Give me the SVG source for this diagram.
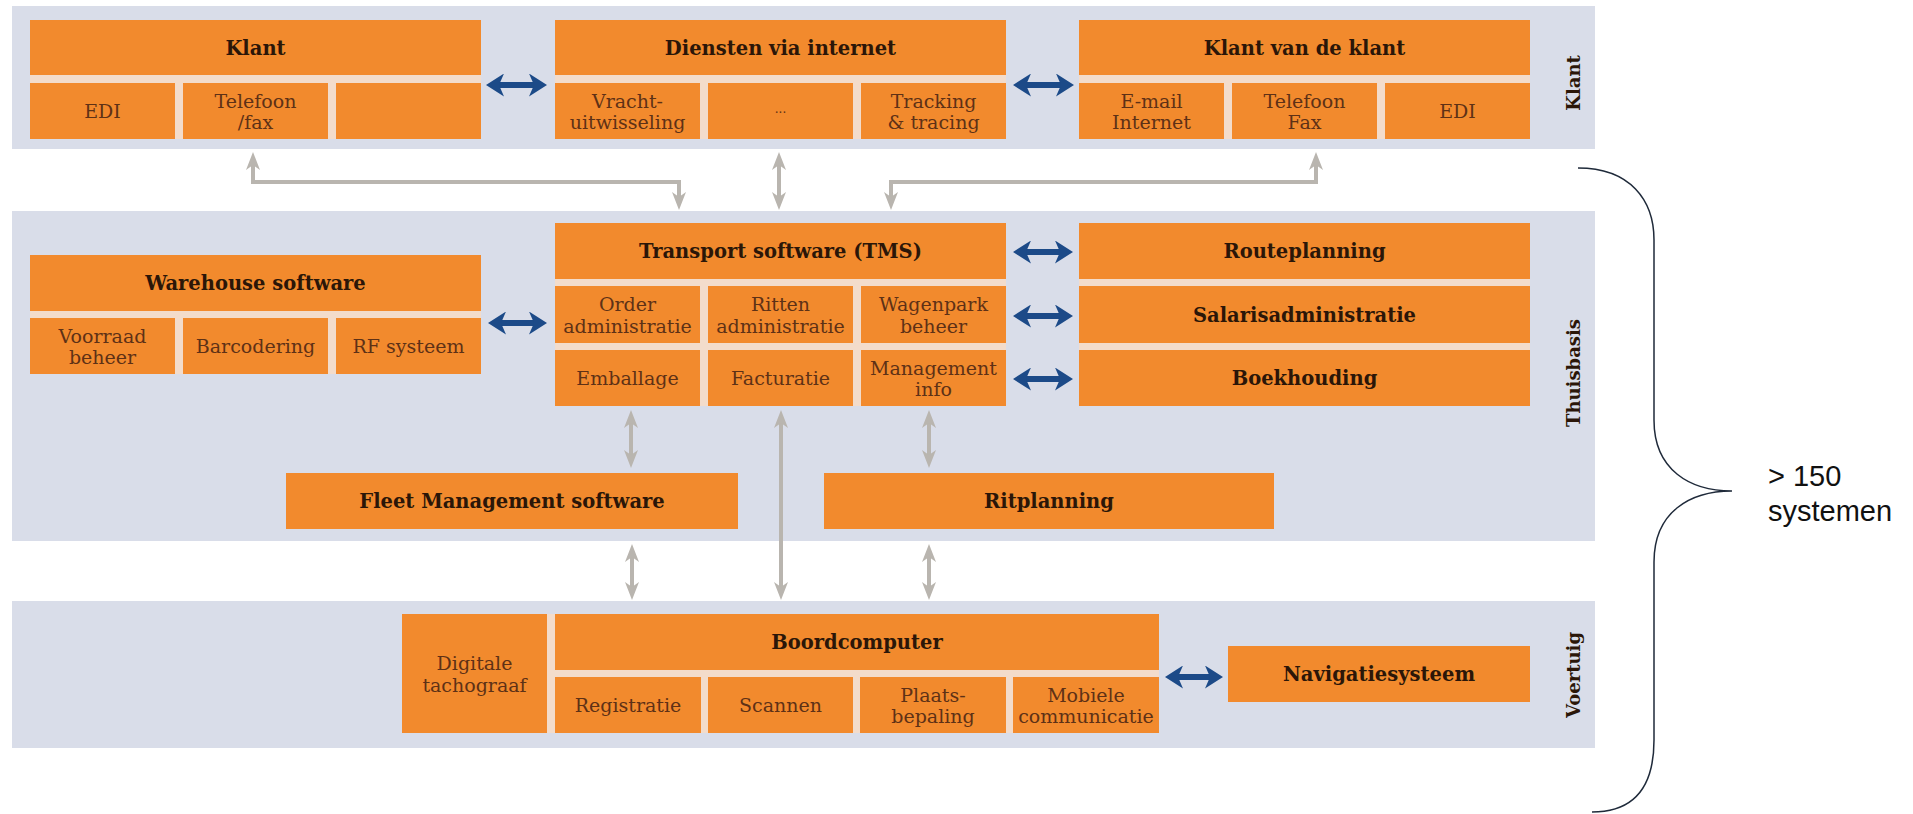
<svg xmlns="http://www.w3.org/2000/svg" width="1913" height="814" viewBox="0 0 1913 814">
<style>
.band{fill:#d9dde9}
.gap{fill:#f3dccb}
.box{fill:#f28a2d}
.h{font-family:"DejaVu Serif","Liberation Serif",serif;font-weight:bold;font-size:19.5px;fill:#2b1608;text-anchor:middle}
.t{font-family:"DejaVu Serif","Liberation Serif",serif;font-size:19px;fill:#5e3116;text-anchor:middle}
.lbl{font-family:"DejaVu Serif","Liberation Serif",serif;font-weight:bold;font-size:18px;fill:#2b1608;text-anchor:middle}
.g{stroke:#b9b5af;stroke-width:4;fill:none}
.b{stroke:#1c4a88;stroke-width:6;fill:none}
.note{font-family:"Liberation Sans",Arial,sans-serif;font-size:29px;fill:#111111}
</style>
<defs>
<marker id="ga" viewBox="0 0 18 14" refX="11" refY="7" markerWidth="18" markerHeight="14" markerUnits="userSpaceOnUse" orient="auto-start-reverse"><path d="M0,0 L18,7 L0,14 L5,7 z" fill="#b9b5af"/></marker>
<marker id="ba" viewBox="0 0 18 23" refX="9" refY="11.5" markerWidth="18" markerHeight="23" markerUnits="userSpaceOnUse" orient="auto-start-reverse"><path d="M0,0 L18,11.5 L0,23 L5,11.5 z" fill="#1c4a88"/></marker>
</defs>
<rect width="1913" height="814" fill="#ffffff"/>
<g id="bands">
<rect class="band" x="12" y="6" width="1583" height="143"/>
<rect class="band" x="12" y="211" width="1583" height="330"/>
<rect class="band" x="12" y="601" width="1583" height="147"/>
<text class="lbl" transform="translate(1580,83) rotate(-90)">Klant</text>
<text class="lbl" transform="translate(1580,373) rotate(-90)">Thuisbasis</text>
<text class="lbl" transform="translate(1580,675) rotate(-90)">Voertuig</text>
</g>
<g id="node-klant">
<rect class="gap" x="30" y="20" width="451" height="119"/>
<rect class="box" x="30" y="20" width="451" height="55"/>
<text class="h" x="255.5" y="55">Klant</text>
<rect class="box" x="30" y="83" width="145" height="56"/>
<text class="t" x="102.5" y="118">EDI</text>
<rect class="box" x="183" y="83" width="145" height="56"/>
<text class="t" x="255.5" y="107.5">Telefoon</text>
<text class="t" x="255.5" y="129">/fax</text>
<rect class="box" x="336" y="83" width="145" height="56"/>
</g>
<g id="node-diensten">
<rect class="gap" x="555" y="20" width="451" height="119"/>
<rect class="box" x="555" y="20" width="451" height="55"/>
<text class="h" x="780.5" y="55">Diensten via internet</text>
<rect class="box" x="555" y="83" width="145" height="56"/>
<text class="t" x="627.5" y="107.5">Vracht-</text>
<text class="t" x="627.5" y="129">uitwisseling</text>
<rect class="box" x="708" y="83" width="145" height="56"/>
<text class="t" x="780.5" y="113" style="font-size:12px">...</text>
<rect class="box" x="861" y="83" width="145" height="56"/>
<text class="t" x="933.5" y="107.5">Tracking</text>
<text class="t" x="933.5" y="129">&amp; tracing</text>
</g>
<g id="node-klantvandeklant">
<rect class="gap" x="1079" y="20" width="451" height="119"/>
<rect class="box" x="1079" y="20" width="451" height="55"/>
<text class="h" x="1304.5" y="55">Klant van de klant</text>
<rect class="box" x="1079" y="83" width="145" height="56"/>
<text class="t" x="1151.5" y="107.5">E-mail</text>
<text class="t" x="1151.5" y="129">Internet</text>
<rect class="box" x="1232" y="83" width="145" height="56"/>
<text class="t" x="1304.5" y="107.5">Telefoon</text>
<text class="t" x="1304.5" y="129">Fax</text>
<rect class="box" x="1385" y="83" width="145" height="56"/>
<text class="t" x="1457.5" y="118">EDI</text>
</g>
<g id="node-warehouse">
<rect class="gap" x="30" y="255" width="451" height="119"/>
<rect class="box" x="30" y="255" width="451" height="56"/>
<text class="h" x="255.5" y="290">Warehouse software</text>
<rect class="box" x="30" y="318" width="145" height="56"/>
<text class="t" x="102.5" y="342.5">Voorraad</text>
<text class="t" x="102.5" y="364">beheer</text>
<rect class="box" x="183" y="318" width="145" height="56"/>
<text class="t" x="255.5" y="353">Barcodering</text>
<rect class="box" x="336" y="318" width="145" height="56"/>
<text class="t" x="408.5" y="353">RF systeem</text>
</g>
<g id="node-tms">
<rect class="gap" x="555" y="223" width="451" height="183"/>
<rect class="box" x="555" y="223" width="451" height="56"/>
<text class="h" x="780.5" y="258">Transport software (TMS)</text>
<rect class="box" x="555" y="286" width="145" height="57"/>
<text class="t" x="627.5" y="311">Order</text>
<text class="t" x="627.5" y="332.5">administratie</text>
<rect class="box" x="708" y="286" width="145" height="57"/>
<text class="t" x="780.5" y="311">Ritten</text>
<text class="t" x="780.5" y="332.5">administratie</text>
<rect class="box" x="861" y="286" width="145" height="57"/>
<text class="t" x="933.5" y="311">Wagenpark</text>
<text class="t" x="933.5" y="332.5">beheer</text>
<rect class="box" x="555" y="350" width="145" height="56"/>
<text class="t" x="627.5" y="385">Emballage</text>
<rect class="box" x="708" y="350" width="145" height="56"/>
<text class="t" x="780.5" y="385">Facturatie</text>
<rect class="box" x="861" y="350" width="145" height="56"/>
<text class="t" x="933.5" y="374.5">Management</text>
<text class="t" x="933.5" y="396">info</text>
</g>
<g id="node-routeplanning">
<rect class="gap" x="1079" y="279" width="451" height="71"/>
<rect class="box" x="1079" y="223" width="451" height="56"/>
<text class="h" x="1304.5" y="258">Routeplanning</text>
</g>
<g id="node-salarisadministratie">
<rect class="box" x="1079" y="286" width="451" height="57"/>
<text class="h" x="1304.5" y="321.5">Salarisadministratie</text>
</g>
<g id="node-boekhouding">
<rect class="box" x="1079" y="350" width="451" height="56"/>
<text class="h" x="1304.5" y="385">Boekhouding</text>
</g>
<g id="node-fleet">
<rect class="box" x="286" y="473" width="452" height="56"/>
<text class="h" x="512" y="508">Fleet Management software</text>
</g>
<g id="node-ritplanning">
<rect class="box" x="824" y="473" width="450" height="56"/>
<text class="h" x="1049" y="508">Ritplanning</text>
</g>
<g id="node-tachograaf">
<rect class="gap" x="402" y="614" width="757" height="119"/>
<rect class="box" x="402" y="614" width="145" height="119"/>
<text class="t" x="474.5" y="670">Digitale</text>
<text class="t" x="474.5" y="691.5">tachograaf</text>
</g>
<g id="node-boordcomputer">
<rect class="box" x="555" y="614" width="604" height="56"/>
<text class="h" x="857" y="649">Boordcomputer</text>
<rect class="box" x="555" y="677" width="146" height="56"/>
<text class="t" x="628" y="712">Registratie</text>
<rect class="box" x="708" y="677" width="145" height="56"/>
<text class="t" x="780.5" y="712">Scannen</text>
<rect class="box" x="860" y="677" width="146" height="56"/>
<text class="t" x="933" y="701.5">Plaats-</text>
<text class="t" x="933" y="723">bepaling</text>
<rect class="box" x="1013" y="677" width="146" height="56"/>
<text class="t" x="1086" y="701.5">Mobiele</text>
<text class="t" x="1086" y="723">communicatie</text>
</g>
<g id="node-navigatiesysteem">
<rect class="box" x="1228" y="646" width="302" height="56"/>
<text class="h" x="1379" y="681">Navigatiesysteem</text>
</g>
<g id="connectors">
<path class="g" d="M253,159 L253,182 L679,182 L679,203" marker-start="url(#ga)" marker-end="url(#ga)"/>
<path class="g" d="M779,159 L779,203" marker-start="url(#ga)" marker-end="url(#ga)"/>
<path class="g" d="M891,203 L891,182 L1316,182 L1316,159" marker-start="url(#ga)" marker-end="url(#ga)"/>
<path class="g" d="M631,417 L631,461" marker-start="url(#ga)" marker-end="url(#ga)"/>
<path class="g" d="M781,417 L781,593" marker-start="url(#ga)" marker-end="url(#ga)"/>
<path class="g" d="M929,417 L929,461" marker-start="url(#ga)" marker-end="url(#ga)"/>
<path class="g" d="M632,551 L632,593" marker-start="url(#ga)" marker-end="url(#ga)"/>
<path class="g" d="M929,551 L929,593" marker-start="url(#ga)" marker-end="url(#ga)"/>
<path class="b" d="M495,85 L538,85" marker-start="url(#ba)" marker-end="url(#ba)"/>
<path class="b" d="M1022,85 L1065,85" marker-start="url(#ba)" marker-end="url(#ba)"/>
<path class="b" d="M497,323 L538,323" marker-start="url(#ba)" marker-end="url(#ba)"/>
<path class="b" d="M1022,252 L1064,252" marker-start="url(#ba)" marker-end="url(#ba)"/>
<path class="b" d="M1022,316 L1064,316" marker-start="url(#ba)" marker-end="url(#ba)"/>
<path class="b" d="M1022,379 L1064,379" marker-start="url(#ba)" marker-end="url(#ba)"/>
<path class="b" d="M1174,677 L1214,677" marker-start="url(#ba)" marker-end="url(#ba)"/>
</g>
<g id="brace">
<path d="M1578,168 C1630,168 1654,200 1654,240 L1654,420 C1654,470 1690,491 1732,491 C1690,491 1654,512 1654,562 L1654,740 C1654,790 1632,812 1592,812" fill="none" stroke="#1f2a3a" stroke-width="1.5"/>
<text class="note" x="1768" y="486">&gt; 150</text>
<text class="note" x="1768" y="521">systemen</text>
</g>
</svg>
